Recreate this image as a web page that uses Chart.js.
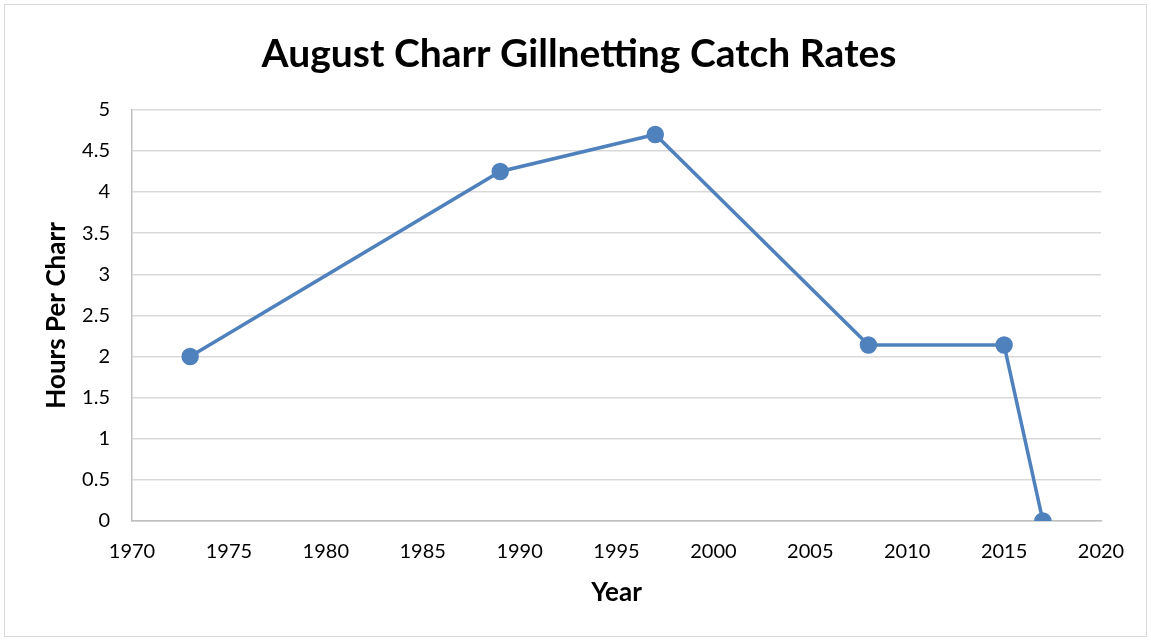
<!DOCTYPE html>
<html>
<head>
<meta charset="utf-8">
<script src="https://cdn.jsdelivr.net/npm/chart.js@4"></script>
<style>
  body { margin: 0; background: #fff; }
  #caja { position: absolute; left: 4px; top: 4px; width: 1141px; height: 631px; border: 1px solid #d9d9d9; }
</style>
</head>
<body>
<div id="caja"><canvas id="grafica" width="1141" height="631"></canvas></div>
<script>
const anios = [1973, 1989, 1997, 2008, 2015, 2017];
const horasPorCharr = [2, 4.25, 4.7, 2.14, 2.14, 0];
const titulo = 'August Charr Gillnetting Catch Rates';

const puntos = anios.map((a, i) => ({ x: a, y: horasPorCharr[i] }));
const fuente = 'Lato, "Open Sans", sans-serif';
Chart.defaults.color = '#000';

new Chart('grafica', {
    type: 'scatter',
    data: {
        datasets: [{
            data: puntos,
            showLine: true,
            borderColor: '#4f81bd',
            backgroundColor: '#4f81bd',
            borderWidth: 3.5,
            pointRadius: 7,
            pointHoverRadius: 7
        }]
    },
    options: {
        responsive: false,
        animation: false,
        // padding izquierda/derecha casi iguales para centrar el titulo como en el original
        layout: { padding: { left: 52, right: 45, top: 0, bottom: 15 } },
        plugins: {
            legend: { display: false },
            tooltip: { enabled: false },
            title: {
                display: true,
                text: titulo,
                font: { family: fuente, size: 39, weight: 'bold' },
                padding: { top: 26, bottom: 32 }
            }
        },
        scales: {
            x: {
                type: 'linear',
                min: 1970, max: 2020,
                afterFit: s => { s.height = 100; },
                ticks: { stepSize: 5, padding: 19, font: { family: fuente, size: 20 }, callback: v => String(v) },
                grid: { display: false, drawTicks: false },
                border: { color: '#bfbfbf', width: 1.5 },
                title: { display: true, text: 'Year', font: { family: fuente, size: 26, weight: 'bold' }, padding: { bottom: 13 } }
            },
            y: {
                min: 0, max: 5,
                afterFit: s => { s.width = 75; },
                ticks: { stepSize: 0.5, padding: 22, font: { family: fuente, size: 20 }, callback: v => String(v) },
                grid: { color: '#d9d9d9', lineWidth: 1.5, drawTicks: false },
                border: { color: '#bfbfbf', width: 1.5 },
                title: { display: true, text: 'Hours Per Charr', font: { family: fuente, size: 26, weight: 'bold' }, padding: { top: -16 } }
            }
        }
    }
});
</script>
</body>
</html>
